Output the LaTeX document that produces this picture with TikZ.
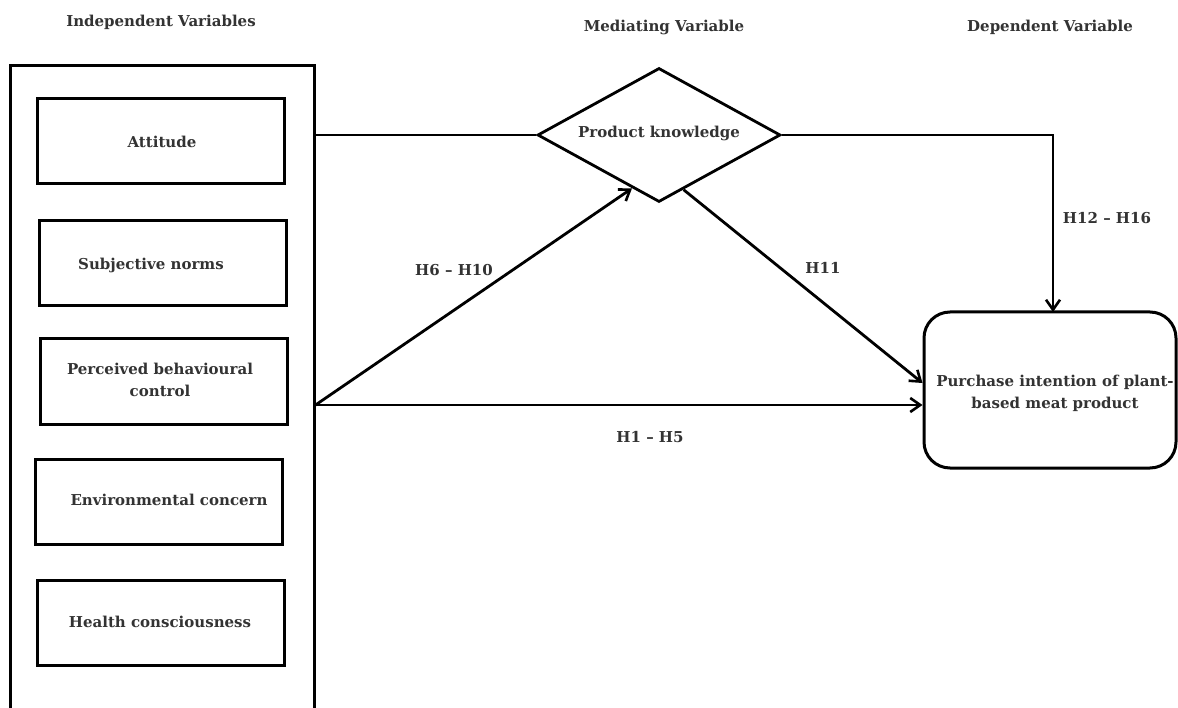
\documentclass[tikz,border=0pt]{standalone}
\usepackage{fontspec}
\setmainfont{DejaVu Serif}
\usetikzlibrary{arrows.meta,shapes.geometric,calc}
\tikzset{
  lbl/.style={font=\bfseries\fontsize{15}{22}\selectfont, inner sep=0pt, align=center, text=black!80},
  ivbox/.style={draw, line width=3pt, minimum width=247pt, minimum height=85pt, inner sep=0pt},
  conn/.style={line width=2.8pt},
  arr/.style={line width=2.8pt, -{Straight Barb[length=10pt,width=14pt,line width=2.6pt]}},
}
\begin{document}
\begin{tikzpicture}[x=1pt,y=-1pt]
\useasboundingbox (0,0) rectangle (1178,708);
\fill[white] (0,0) rectangle (1178,708);
% headers
\node[lbl] (hiv) at (161,22) {Independent Variables};
\node[lbl] (hmv) at (664,27) {Mediating Variable};
\node[lbl] (hdv) at (1050,27) {Dependent Variable};
% container
\node[draw, line width=3pt, minimum width=304pt, minimum height=652pt, inner sep=0pt] (iv) at (162,392) {};
% boxes
\node[ivbox] (att) at (160.5,141.5) {};
\node[ivbox] (sn)  at (162.5,263) {};
\node[ivbox] (pbc) at (163.5,381.5) {};
\node[ivbox] (ec)  at (158.5,501.5) {};
\node[ivbox] (hc)  at (161,622.5) {};
\node[lbl] (tatt) at (162,142) {Attitude};
\node[lbl] (tsn)  at (151,265) {Subjective norms};
\node[lbl] (tpbc) at (160,380) {Perceived behavioural\\control};
\node[lbl] (tec)  at (169,500) {Environmental concern};
\node[lbl] (thc)  at (160,622) {Health consciousness};
% mediator
\node[draw, diamond, line width=2.8pt, minimum width=243pt, minimum height=134pt, inner sep=0pt] (pk) at (659,135) {};
\node[lbl] (tpk) at (659,133) {Product knowledge};
% dependent
\node[draw, rounded corners=26pt, line width=3pt, minimum width=252pt, minimum height=156pt, inner sep=0pt] (pi) at (1050,390) {};
\node[lbl] (tpi) at (1055,393) {Purchase intention of plant-\\based meat product};
% anchors
\coordinate (ivA) at (iv.east |- pk.west);
\coordinate (ivP) at ($(iv.east)+(0,13)$);
\coordinate (pkIn) at ($(pk.west)!0.78!(pk.south)$);
\coordinate (pkOut) at ($(pk.south)!0.2!(pk.east)$);
\coordinate (corner) at (1053,135);
\coordinate (piTop) at (1053,312);
\coordinate (piH) at (pi.west |- ivP);
\coordinate (piD) at ($(pi.west)+(0,-7)$);
% connectors
\draw[conn] (ivA) -- (pk.west);
\draw[arr] (pk.east) -- (corner) -- (piTop);
\draw[arr] (ivP) -- (pkIn);
\draw[arr] (ivP) -- (piH);
\draw[arr] (pkOut) -- (piD);
% labels
\node[lbl] (l1) at (454,270) {H6 – H10};
\node[lbl] (l2) at (823,268) {H11};
\node[lbl] (l3) at (1107,218) {H12 – H16};
\node[lbl] (l4) at (650,437) {H1 – H5};
\end{tikzpicture}
\end{document}
